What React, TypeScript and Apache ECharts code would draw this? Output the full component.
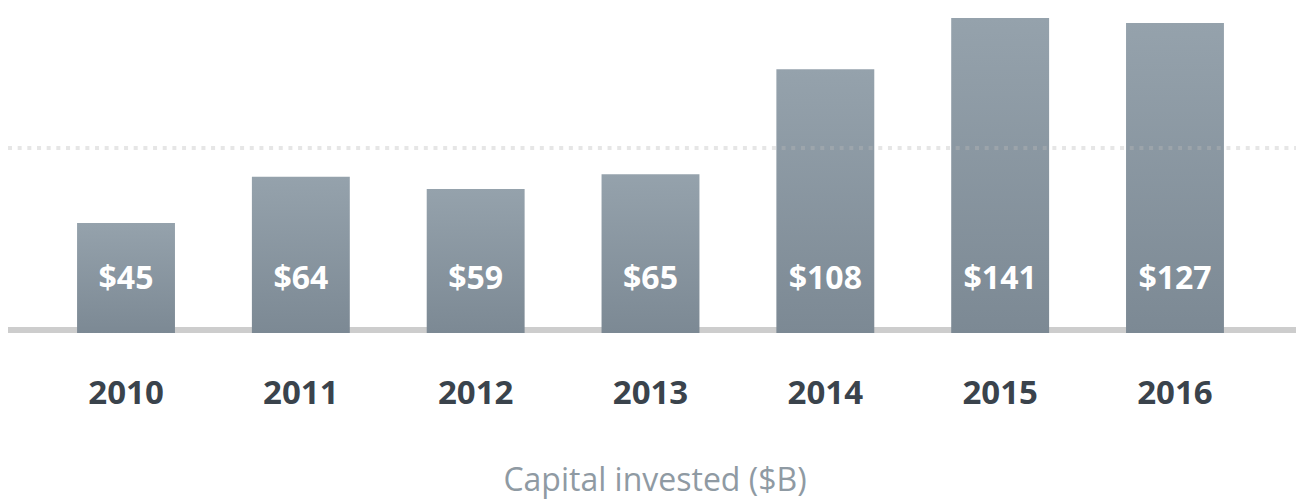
import React, { useEffect, useRef } from "react";
import * as echarts from "echarts";

const years = ["2010", "2011", "2012", "2013", "2014", "2015", "2016"];
const capitalInvested = [45, 64, 59, 65, 108, 141, 127];
const axisMax = 129;
const caption = "Capital invested ($B)";

export default function App() {
  const ref = useRef<HTMLDivElement>(null);

  useEffect(() => {
    if (!ref.current) return;
    const chart = echarts.init(ref.current, undefined, { renderer: "svg" });
    chart.setOption({
      animation: false,
      backgroundColor: "#ffffff",
      grid: [
        { left: 38.6, right: 33.6, top: 18, bottom: 167 },
        { left: 8, right: 0, top: 148, bottom: 170 },
      ],
      xAxis: [
        {
          type: "category",
          gridIndex: 0,
          data: years,
          axisLine: { show: false },
          axisTick: { show: false },
          splitLine: { show: false },
          axisLabel: {
            margin: 42,
            fontFamily: "Open Sans",
            fontWeight: "bold",
            fontSize: 33,
            color: "#3a434c",
          },
        },
        {
          type: "value",
          gridIndex: 1,
          min: 0,
          max: 1,
          axisLine: { show: true, lineStyle: { color: "#cdcdcd", width: 6, cap: "butt" } },
          axisTick: { show: false },
          axisLabel: { show: false },
          splitLine: { show: false },
          z: 0,
        },
      ],
      yAxis: [
        {
          type: "value",
          gridIndex: 0,
          min: 0,
          max: axisMax,
          axisLine: { show: false },
          axisTick: { show: false },
          axisLabel: { show: false },
          splitLine: { show: false },
        },
        {
          type: "value",
          gridIndex: 1,
          min: 0,
          max: 1,
          interval: 1,
          z: 10,
          axisLine: { show: false },
          axisTick: { show: false },
          axisLabel: { show: false },
          splitLine: {
            show: true,
            showMinLine: false,
            lineStyle: {
              color: "rgba(185,185,185,0.36)",
              width: 4,
              type: [4, 5.67],
            },
          },
        },
      ],
      series: [
        {
          type: "bar",
          xAxisIndex: 0,
          yAxisIndex: 0,
          data: capitalInvested,
          barWidth: "56%",
          clip: true,
          itemStyle: {
            color: new echarts.graphic.LinearGradient(0, 0, 0, 1, [
              { offset: 0, color: "#95a2ac" },
              { offset: 1, color: "#7c8994" },
            ]),
          },
          label: {
            show: true,
            position: "insideBottom",
            distance: 41,
            formatter: (p: any) => "$" + p.value,
            color: "#ffffff",
            fontFamily: "Open Sans",
            fontWeight: "bold",
            fontSize: 32,
          },
        },
        {
          type: "line",
          xAxisIndex: 1,
          yAxisIndex: 1,
          data: [],
        },
      ],
      graphic: [
        {
          type: "text",
          x: 655,
          y: 478,
          style: {
            text: caption,
            textAlign: "center",
            textVerticalAlign: "middle",
            fontFamily: "Open Sans",
            fontSize: 32,
            fill: "#8f9aa3",
          },
        },
      ],
    });
    return () => chart.dispose();
  }, []);

  return (
    <div
      ref={ref}
      style={{ position: "fixed", left: 0, top: 0, width: 1296, height: 500 }}
    />
  );
}
